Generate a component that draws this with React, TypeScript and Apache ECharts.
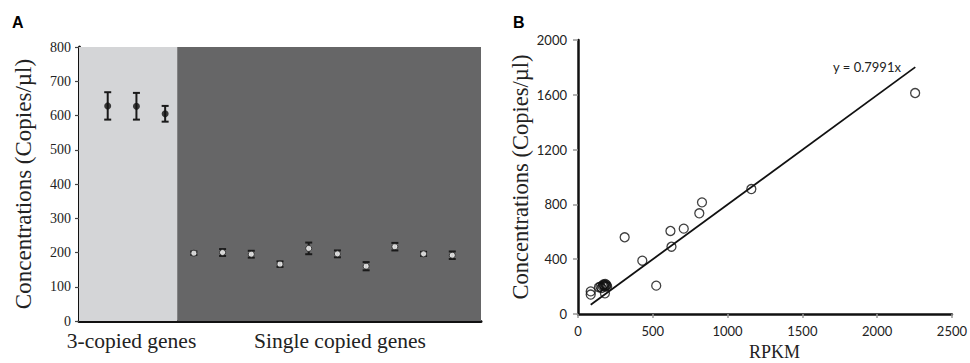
import React, { useEffect, useRef } from "react";
import * as echarts from "echarts";

// ---------- Panel A data ----------
const threeCopyX = [1, 2, 3];
const threeCopyMean = [628, 627, 605];
const threeCopyErr = [40, 39, 23];

const singleX = [4, 5, 6, 7, 8, 9, 10, 11, 12, 13];
const singleMean = [198, 200, 195, 166, 212, 196, 160, 217, 196, 192];
const singleErr = [5, 10, 10, 8, 17, 10, 12, 11, 6, 11];

const groupBoundary = 3.42;
const slotMax = 14;
const groupLabels = ["3-copied genes", "Single copied genes"];

// ---------- Panel B data ----------
const rpkm = [85, 85, 140, 150, 158, 165, 170, 175, 178, 182, 186, 190, 195, 180, 312, 430, 523, 618, 625, 707, 811, 829, 1159, 2254];
const conc = [165, 142, 195, 200, 190, 205, 215, 210, 200, 220, 205, 212, 200, 151, 560, 389, 207, 606, 491, 623, 735, 815, 912, 1613];
const slope = 0.7991;
const trendRange = [85, 2255];
const trendLabel = "y = 0.7991x";

const serif = "'Liberation Serif', 'Times New Roman', serif";
const sans = "Lato, 'Liberation Sans', sans-serif";

function errorBarSeries(xs: number[], means: number[], errs: number[], capW: number, xAxisIndex: number, yAxisIndex: number) {
  return {
    type: "custom",
    xAxisIndex,
    yAxisIndex,
    z: 5,
    data: xs.map((x, i) => [x, means[i] - errs[i], means[i] + errs[i]]),
    encode: { x: 0, y: [1, 2] },
    renderItem: (params: any, api: any) => {
      const x = api.value(0);
      const lo = api.coord([x, api.value(1)]);
      const hi = api.coord([x, api.value(2)]);
      const st = { stroke: "#1a1a1a", lineWidth: 2 };
      return {
        type: "group",
        children: [
          { type: "line", shape: { x1: hi[0], y1: hi[1], x2: lo[0], y2: lo[1] }, style: st },
          { type: "line", shape: { x1: hi[0] - capW / 2, y1: hi[1], x2: hi[0] + capW / 2, y2: hi[1] }, style: st },
          { type: "line", shape: { x1: lo[0] - capW / 2, y1: lo[1], x2: lo[0] + capW / 2, y2: lo[1] }, style: st },
        ],
      };
    },
  };
}

export default function App() {
  const ref = useRef<HTMLDivElement>(null);
  useEffect(() => {
    if (!ref.current) return;
    const chart = echarts.init(ref.current, undefined, { renderer: "svg" });
    const option: any = {
      animation: false,
      backgroundColor: "#ffffff",
      grid: [
        { left: 79, top: 47, width: 402, height: 274 },
        { left: 578, top: 40, width: 376, height: 274 },
      ],
      xAxis: [
        {
          gridIndex: 0,
          type: "value",
          min: 0,
          max: slotMax,
          axisLine: { show: true, onZero: false, lineStyle: { color: "#111", width: 3 } },
          axisTick: { show: false },
          axisLabel: { show: false },
          splitLine: { show: false },
        },
        {
          gridIndex: 1,
          type: "value",
          min: 0,
          max: 2500,
          interval: 500,
          axisLine: { show: true, onZero: false, lineStyle: { color: "#111", width: 2.5 } },
          axisTick: { show: true, length: 4, lineStyle: { color: "#999", width: 1.5 } },
          axisLabel: { color: "#222", fontFamily: sans, fontSize: 13, margin: 10, formatter: (v: number) => String(v) },
          splitLine: { show: false },
        },
      ],
      yAxis: [
        {
          gridIndex: 0,
          type: "value",
          min: 0,
          max: 800,
          interval: 100,
          axisLine: { show: true, onZero: false, lineStyle: { color: "#111", width: 3 } },
          axisTick: { show: true, length: 4, lineStyle: { color: "#444", width: 1.2 } },
          axisLabel: { color: "#222", fontFamily: serif, fontSize: 14, margin: 8 },
          splitLine: { show: false },
          name: "Concentrations (Copies/µl)",
          nameLocation: "middle",
          nameGap: 44,
          nameTextStyle: { color: "#222", fontFamily: serif, fontSize: 23 },
        },
        {
          gridIndex: 1,
          type: "value",
          min: 0,
          max: 2000,
          interval: 400,
          axisLine: { show: true, onZero: false, lineStyle: { color: "#111", width: 2.5 } },
          axisTick: { show: true, length: 5, lineStyle: { color: "#999", width: 1.5 } },
          axisLabel: { color: "#222", fontFamily: sans, fontSize: 13, margin: 11, formatter: (v: number) => String(v) },
          splitLine: { show: false },
          name: "Concentrations (Copies/µl)",
          nameLocation: "middle",
          nameGap: 46,
          nameTextStyle: { color: "#222", fontFamily: serif, fontSize: 22.5 },
        },
      ],
      graphic: [
        { type: "text", left: 12, top: 14, style: { text: "A", font: "bold 16px 'Liberation Sans', Arial, sans-serif", fill: "#000" } },
        { type: "text", left: 513, top: 14, style: { text: "B", font: "bold 16px 'Liberation Sans', Arial, sans-serif", fill: "#000" } },
        { type: "text", x: 131.5, y: 341, style: { text: groupLabels[0], font: `21.5px ${serif}`, fill: "#222", textAlign: "center", textVerticalAlign: "middle" } },
        { type: "text", x: 340, y: 341, style: { text: groupLabels[1], font: `21.5px ${serif}`, fill: "#222", textAlign: "center", textVerticalAlign: "middle" } },
        { type: "text", x: 774.5, y: 352, style: { text: "RPKM", font: `18px ${serif}`, fill: "#222", textAlign: "center", textVerticalAlign: "middle" } },
        { type: "text", x: 867, y: 67, style: { text: trendLabel, font: `13px ${sans}`, fill: "#222", textAlign: "center", textVerticalAlign: "middle" } },
      ],
      series: [
        {
          type: "scatter",
          xAxisIndex: 0,
          yAxisIndex: 0,
          data: [],
          silent: true,
          markArea: {
            silent: true,
            data: [
              [{ coord: [0, 0], itemStyle: { color: "#d4d5d7" } }, { coord: [groupBoundary, 800] }],
              [{ coord: [groupBoundary, 0], itemStyle: { color: "#666667" } }, { coord: [slotMax, 800] }],
            ],
          },
        },
        errorBarSeries(threeCopyX, threeCopyMean, threeCopyErr, 7, 0, 0),
        errorBarSeries(singleX, singleMean, singleErr, 7, 0, 0),
        {
          type: "scatter",
          xAxisIndex: 0,
          yAxisIndex: 0,
          z: 6,
          symbol: "circle",
          symbolSize: 7,
          itemStyle: { color: "#111" },
          data: threeCopyX.map((x, i) => [x, threeCopyMean[i]]),
        },
        {
          type: "scatter",
          xAxisIndex: 0,
          yAxisIndex: 0,
          z: 6,
          symbol: "circle",
          symbolSize: 6,
          itemStyle: { color: "#ffffff", borderColor: "#222", borderWidth: 1 },
          data: singleX.map((x, i) => [x, singleMean[i]]),
        },
        {
          type: "scatter",
          xAxisIndex: 1,
          yAxisIndex: 1,
          symbol: "circle",
          symbolSize: 9,
          itemStyle: { color: "rgba(255,255,255,0)", borderColor: "#111", borderWidth: 1.3 },
          data: rpkm.map((x, i) => [x, conc[i]]),
        },
        {
          type: "line",
          xAxisIndex: 1,
          yAxisIndex: 1,
          symbol: "none",
          lineStyle: { color: "#111", width: 1.8 },
          data: trendRange.map((x) => [x, slope * x]),
        },
      ],
    };
    chart.setOption(option);
    return () => chart.dispose();
  }, []);
  return (
    <div
      ref={ref}
      style={{ position: "absolute", left: 0, top: 0, width: 970, height: 363, background: "#fff" }}
    />
  );
}
